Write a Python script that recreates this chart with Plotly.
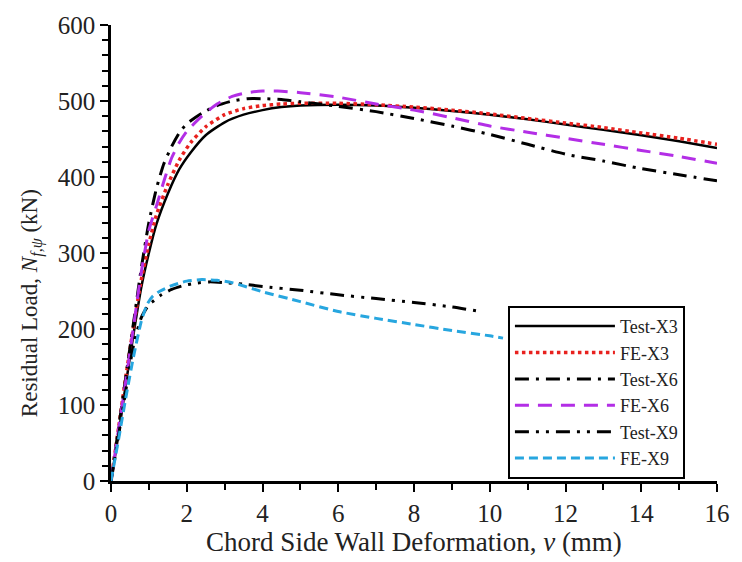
import plotly.graph_objects as go

# ---- data ----
test_x3_x = [0, 0.2, 0.4, 0.6, 0.8, 1.0, 1.2, 1.5, 1.8, 2.1, 2.5, 3.0, 3.5, 4.0, 4.5, 5.0, 6.0, 7.0, 8.0, 9.0, 10, 11, 12, 13, 14, 15, 16]
test_x3_y = [0, 62, 130, 195, 255, 300, 338, 378, 410, 432, 455, 472, 482, 488, 492, 494, 495, 494, 491, 487, 482, 476, 469, 462, 455, 447, 438]

fe_x3_x = [0, 0.2, 0.4, 0.6, 0.8, 1.0, 1.2, 1.5, 1.8, 2.1, 2.5, 3.0, 3.5, 4.0, 4.5, 5.0, 6.0, 7.0, 8.0, 9.0, 10, 11, 12, 13, 14, 15, 16]
fe_x3_y = [0, 70, 140, 205, 265, 312, 350, 390, 422, 445, 466, 482, 490, 494, 496, 497, 497, 495, 492, 488, 483, 477, 471, 465, 458, 451, 443]

test_x6_x = [0, 0.2, 0.4, 0.6, 0.8, 1.0, 1.2, 1.4, 1.6, 1.8, 2.0, 2.4, 2.8, 3.2, 3.6, 4.0, 4.5, 5, 6, 7, 8, 9, 10, 11, 12, 13, 14, 15, 16]
test_x6_y = [0, 70, 140, 210, 280, 340, 385, 418, 440, 458, 470, 484, 494, 500, 503, 503, 502, 499, 493, 486, 477, 467, 456, 443, 430, 421, 411, 403, 395]

fe_x6_x = [0, 0.2, 0.4, 0.6, 0.8, 1.0, 1.2, 1.4, 1.6, 1.8, 2.0, 2.4, 2.8, 3.2, 3.6, 4.0, 4.4, 5, 6, 7, 8, 9, 10, 11, 12, 13, 14, 15, 16]
fe_x6_y = [0, 68, 135, 205, 275, 330, 362, 395, 425, 445, 460, 480, 496, 506, 511, 513, 513, 511, 505, 496, 488, 478, 467, 459, 451, 443, 435, 427, 418]

test_x9_x = [0, 0.2, 0.4, 0.6, 0.8, 1.0, 1.1, 1.3, 1.6, 1.9, 2.2, 2.6, 3.0, 3.5, 4.0, 5.0, 6.0, 7.0, 8.0, 9.0, 9.75]
test_x9_y = [0, 60, 122, 180, 215, 232, 236, 244, 252, 257, 260, 262, 261, 259, 256, 251, 245, 240, 235, 229, 223]

fe_x9_x = [0, 0.2, 0.4, 0.6, 0.8, 0.95, 1.1, 1.3, 1.6, 2.0, 2.4, 2.8, 3.2, 4.0, 5.0, 6.0, 7.0, 8.0, 9.0, 10.0, 10.35]
fe_x9_y = [0, 55, 112, 165, 210, 232, 243, 250, 257, 263, 265, 264, 261, 249, 236, 223, 214, 206, 198, 191, 188]

FONT = "Liberation Serif, Times New Roman, serif"

fig = go.Figure()

series = [
    ("Test-X3", test_x3_x, test_x3_y, "#000000", "solid", 2.5),
    ("FE-X3", fe_x3_x, fe_x3_y, "#e8211e", "dot", 3.5),
    ("Test-X6", test_x6_x, test_x6_y, "#000000", "14px,7px,3px,7px", 3),
    ("FE-X6", fe_x6_x, fe_x6_y, "#b32ee6", "14px,9px", 3),
    ("Test-X9", test_x9_x, test_x9_y, "#000000", "14px,7px,3px,7px,3px,7px", 3),
    ("FE-X9", fe_x9_x, fe_x9_y, "#27a6df", "9px,5px", 3),
]

for name, xs, ys, color, dash, width in series:
    fig.add_trace(go.Scatter(
        x=xs, y=ys, name=name, mode="lines",
        line=dict(color=color, dash=dash, width=width, shape="spline", smoothing=0.6),
    ))

axis_common = dict(
    showgrid=False, zeroline=False, showline=True, linecolor="black", linewidth=2.5,
    ticks="outside", tickcolor="black", tickwidth=2, ticklen=8,
    tickfont=dict(family=FONT, size=25, color="#222"),
    mirror=False,
)

fig.update_xaxes(
    range=[0, 16], dtick=2, tick0=0,
    minor=dict(dtick=1, ticks="outside", ticklen=6, tickwidth=2, tickcolor="black"),
    title=dict(text="Chord Side Wall Deformation, <i>v</i> (mm)", font=dict(family=FONT, size=27, color="#222"), standoff=2),
    **axis_common,
)
fig.update_yaxes(
    range=[0, 600], dtick=100, tick0=0,
    minor=dict(dtick=20, ticks="outside", ticklen=6, tickwidth=2, tickcolor="black"),
    **axis_common,
)

# y-axis title placed as an annotation (it sits below the axis centre in the reference)
fig.add_annotation(
    text="Residual Load, <i>N</i><sub><i>f,ψ</i></sub> (kN)",
    xref="paper", yref="paper", x=-0.132, y=0.39,
    xanchor="center", yanchor="middle", textangle=-90, showarrow=False,
    font=dict(family=FONT, size=23, color="#222"),
)

fig.update_layout(
    width=742, height=562,
    margin=dict(l=111, r=19, t=21, b=81),
    plot_bgcolor="white", paper_bgcolor="white",
    legend=dict(
        x=0.655, y=0.384, xanchor="left", yanchor="top",
        bordercolor="black", borderwidth=2, bgcolor="white",
        font=dict(family=FONT, size=18, color="#222"),
        itemwidth=100, tracegroupgap=0,
    ),
)

fig.write_html("out.html")
